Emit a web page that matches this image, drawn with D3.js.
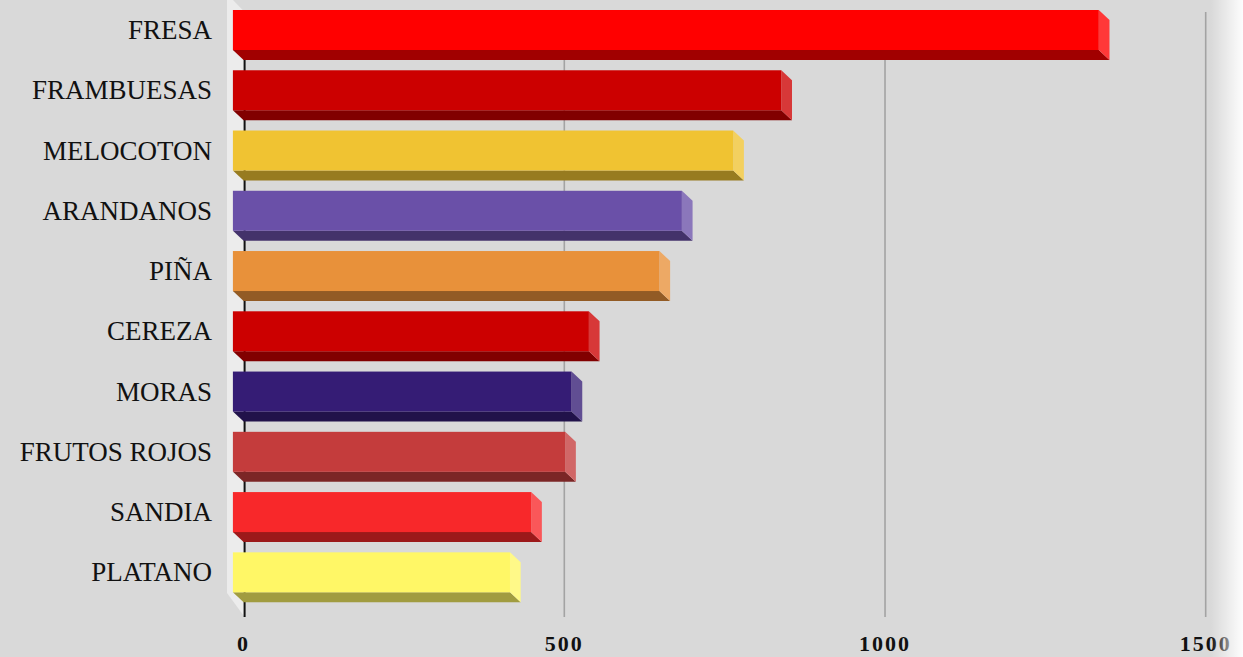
<!DOCTYPE html>
<html>
<head>
<meta charset="utf-8">
<script src="https://cdn.jsdelivr.net/npm/d3@7/dist/d3.min.js"></script>
<style>
  html, body { margin: 0; padding: 0; background: #d9d9d9; }
  svg { display: block; }
</style>
</head>
<body>
<svg id="chart" width="1243" height="657"></svg>
<script>
const categories = ["FRESA", "FRAMBUESAS", "MELOCOTON", "ARANDANOS", "PIÑA", "CEREZA", "MORAS", "FRUTOS ROJOS", "SANDIA", "PLATANO"];
const values = [1350, 855, 780, 700, 665, 555, 528, 518, 465, 432];
const colors = ["#ff0000", "#cc0000", "#f0c332", "#6a50a8", "#e8913a", "#cc0000", "#351c75", "#c43c3c", "#f8282a", "#fff766"];
const tickValues = [0, 500, 1000, 1500];

const W = 1243, H = 657;
const svg = d3.select("#chart");
const depthX = 10.7, depthY = 10;
const barH = 40;

const x = d3.scaleLinear().domain([0, 1500]).range([243.6, 1205.7]);
const y = d3.scaleBand().domain(categories).range([10, 612.6]).padding(0);
const plotTop = 12, plotBottom = 617;

svg.append("rect").attr("width", W).attr("height", H).attr("fill", "#d9d9d9");

// left side wall
svg.append("polygon")
  .attr("points", [[227, 0], [233, 0], [x(0) + 1, plotTop], [x(0) + 1, plotBottom], [227, 593]].map(p => p.join(",")).join(" "))
  .attr("fill", "#ececec");

// gridlines
svg.append("g").selectAll("line").data(tickValues.slice(1)).join("line")
  .attr("x1", d => x(d)).attr("x2", d => x(d))
  .attr("y1", plotTop).attr("y2", plotBottom)
  .attr("stroke", "#a3a3a3").attr("stroke-width", 1.6);

// axis line
svg.append("line")
  .attr("x1", x(0) + 1).attr("x2", x(0) + 1)
  .attr("y1", plotTop).attr("y2", plotBottom)
  .attr("stroke", "#111").attr("stroke-width", 2);

// bars
const data = categories.map((c, i) => ({ c, v: values[i], col: colors[i] }));
const bars = svg.append("g").selectAll("g").data(data).join("g");

const pts = arr => arr.map(p => p.join(",")).join(" ");

bars.each(function (d) {
  const g = d3.select(this);
  const x0 = x(0) - depthX;
  const x1 = x(d.v) - depthX;
  const t = y(d.c);
  const b = t + barH;
  const base = d3.color(d.col);
  const side = d3.interpolateRgb(d.col, "#ffffff")(0.22);
  const bottom = d3.rgb(base.r * 0.63, base.g * 0.63, base.b * 0.63).toString();
  g.append("polygon")
    .attr("points", pts([[x0, b], [x1, b], [x1 + depthX, b + depthY], [x0 + depthX, b + depthY]]))
    .attr("fill", bottom);
  g.append("polygon")
    .attr("points", pts([[x1, t], [x1 + depthX, t + depthY], [x1 + depthX, b + depthY], [x1, b]]))
    .attr("fill", side);
  g.append("rect")
    .attr("x", x0).attr("y", t).attr("width", x1 - x0).attr("height", barH)
    .attr("fill", d.col);
});

// category labels
svg.append("g").selectAll("text").data(categories).join("text")
  .attr("x", 212)
  .attr("y", d => y(d) + barH / 2)
  .attr("text-anchor", "end")
  .attr("dominant-baseline", "central")
  .attr("font-family", "'Liberation Serif', 'Times New Roman', serif")
  .attr("font-size", 27)
  .attr("fill", "#111")
  .text(d => d);

// tick labels
svg.append("g").selectAll("text").data(tickValues).join("text")
  .attr("x", d => x(d))
  .attr("y", 651)
  .attr("text-anchor", "middle")
  .attr("font-family", "'Liberation Serif', 'Times New Roman', serif")
  .attr("font-weight", "bold")
  .attr("font-size", 22)
  .attr("letter-spacing", 2)
  .attr("fill", "#111")
  .text(d => d);

// right fade
const defs = svg.append("defs");
const grad = defs.append("linearGradient").attr("id", "fade").attr("x1", "0").attr("x2", "1").attr("y1", "0").attr("y2", "0");
grad.append("stop").attr("offset", "0").attr("stop-color", "#ffffff").attr("stop-opacity", 0);
grad.append("stop").attr("offset", "1").attr("stop-color", "#ffffff").attr("stop-opacity", 0.95);
svg.append("rect").attr("x", 1211).attr("y", 0).attr("width", W - 1211).attr("height", H).attr("fill", "url(#fade)");
</script>
</body>
</html>
